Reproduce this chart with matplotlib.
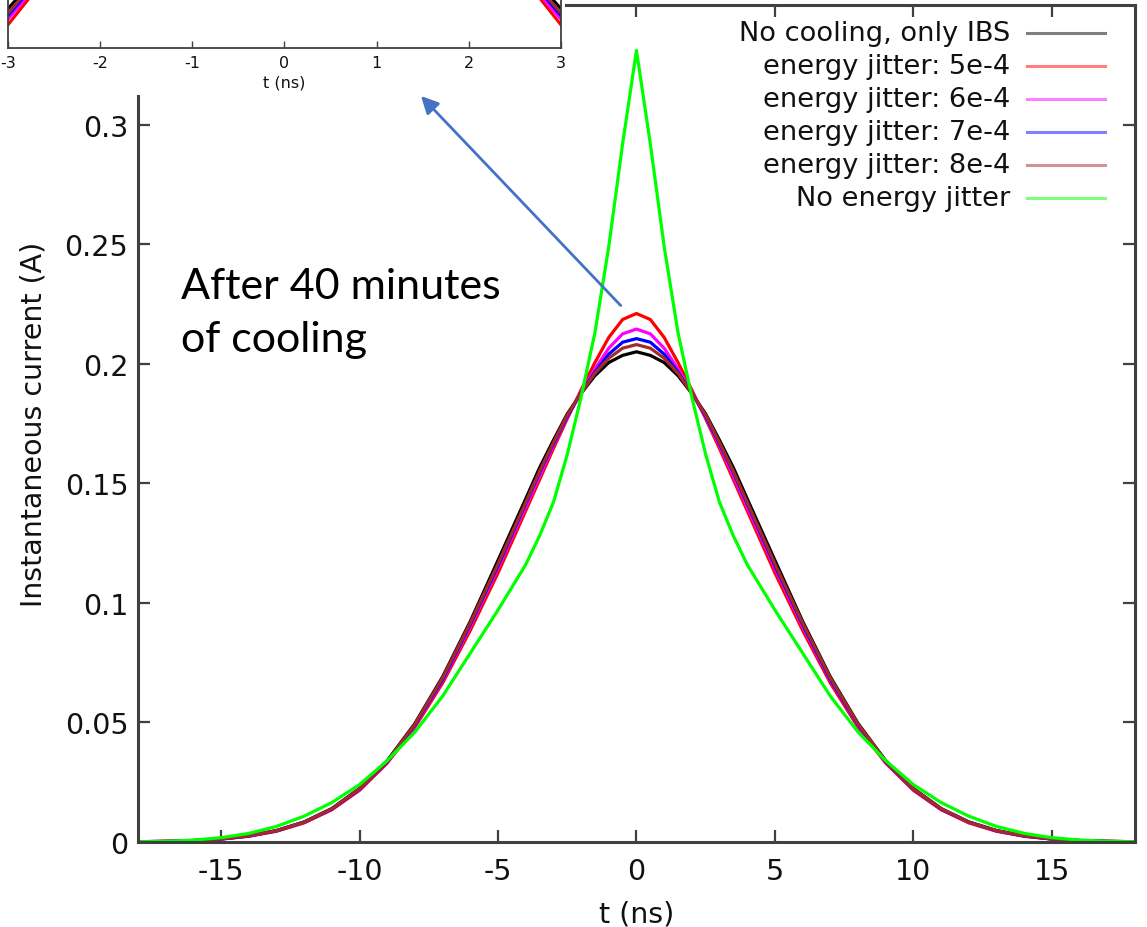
import numpy as np
import matplotlib
matplotlib.use("Agg")
import matplotlib.pyplot as plt
from matplotlib.patches import Rectangle
from matplotlib.lines import Line2D

plt.rcParams['font.family'] = ['DejaVu Sans']
plt.rcParams['axes.unicode_minus'] = False

# time axis (ns)
t = [-18, -17, -16, -15, -14, -13, -12, -11, -10, -9, -8, -7, -6, -5, -4,
     -3.5, -3, -2.5, -2, -1.5, -1, -0.5, 0, 0.5, 1, 1.5, 2, 2.5, 3, 3.5,
     4, 5, 6, 7, 8, 9, 10, 11, 12, 13, 14, 15, 16, 17, 18]

# instantaneous current (A)
ibs_only = [0.0001, 0.0003, 0.0006, 0.0013, 0.0026, 0.0048, 0.0084, 0.014, 0.0224, 0.034, 0.0496, 0.0691, 0.0923, 0.1178, 0.1435,
            0.1565, 0.168, 0.179, 0.1876, 0.195, 0.2005, 0.2035, 0.205, 0.2035, 0.2005, 0.195, 0.1876, 0.179, 0.168, 0.1565,
            0.1435, 0.1178, 0.0923, 0.0691, 0.0496, 0.034, 0.0224, 0.014, 0.0084, 0.0048, 0.0026, 0.0013, 0.0006, 0.0003, 0.0001]
jit_5e4 = [0.0001, 0.0002, 0.0005, 0.0012, 0.0024, 0.0045, 0.008, 0.0135, 0.0216, 0.033, 0.048, 0.0665, 0.0885, 0.1125, 0.1385,
           0.1515, 0.1645, 0.177, 0.189, 0.2005, 0.211, 0.2185, 0.221, 0.2185, 0.211, 0.2005, 0.189, 0.177, 0.1645, 0.1515,
           0.1385, 0.1125, 0.0885, 0.0665, 0.048, 0.033, 0.0216, 0.0135, 0.008, 0.0045, 0.0024, 0.0012, 0.0005, 0.0002, 0.0001]
jit_6e4 = [0.0001, 0.0002, 0.0005, 0.0012, 0.0025, 0.0046, 0.0082, 0.0137, 0.0219, 0.0334, 0.0486, 0.0675, 0.09, 0.1145, 0.14,
           0.153, 0.1657, 0.1775, 0.1882, 0.1978, 0.2065, 0.2125, 0.2145, 0.2125, 0.2065, 0.1978, 0.1882, 0.1775, 0.1657, 0.153,
           0.14, 0.1145, 0.09, 0.0675, 0.0486, 0.0334, 0.0219, 0.0137, 0.0082, 0.0046, 0.0025, 0.0012, 0.0005, 0.0002, 0.0001]
jit_7e4 = [0.0001, 0.0002, 0.0006, 0.0013, 0.0025, 0.0047, 0.0083, 0.0138, 0.0221, 0.0336, 0.049, 0.068, 0.091, 0.1155, 0.1415,
           0.1545, 0.1665, 0.178, 0.1878, 0.1965, 0.204, 0.209, 0.2105, 0.209, 0.204, 0.1965, 0.1878, 0.178, 0.1665, 0.1545,
           0.1415, 0.1155, 0.091, 0.068, 0.049, 0.0336, 0.0221, 0.0138, 0.0083, 0.0047, 0.0025, 0.0013, 0.0006, 0.0002, 0.0001]
jit_8e4 = [0.0001, 0.0003, 0.0006, 0.0013, 0.0026, 0.0047, 0.0083, 0.0139, 0.0222, 0.0338, 0.0493, 0.0686, 0.0916, 0.1163, 0.142,
           0.155, 0.167, 0.1785, 0.1877, 0.196, 0.2023, 0.2065, 0.208, 0.2065, 0.2023, 0.196, 0.1877, 0.1785, 0.167, 0.155,
           0.142, 0.1163, 0.0916, 0.0686, 0.0493, 0.0338, 0.0222, 0.0139, 0.0083, 0.0047, 0.0026, 0.0013, 0.0006, 0.0003, 0.0001]
no_jitter = [0.0001, 0.0003, 0.0008, 0.0018, 0.0036, 0.0065, 0.0108, 0.0165, 0.024, 0.034, 0.046, 0.061, 0.079, 0.097, 0.116,
             0.128, 0.142, 0.162, 0.186, 0.213, 0.249, 0.292, 0.331, 0.292, 0.249, 0.213, 0.186, 0.162, 0.142, 0.128,
             0.116, 0.097, 0.079, 0.061, 0.046, 0.034, 0.024, 0.0165, 0.0108, 0.0065, 0.0036, 0.0018, 0.0008, 0.0003, 0.0001]

series = [ibs_only, jit_5e4, jit_6e4, jit_7e4, jit_8e4, no_jitter]
labels = ["No cooling, only IBS", "energy jitter: 5e-4", "energy jitter: 6e-4",
          "energy jitter: 7e-4", "energy jitter: 8e-4", "No energy jitter"]
colors = ["#000000", "#ff0000", "#ff00ff", "#0000ff", "#a52a2a", "#00ff00"]

x_ticks = [-15, -10, -5, 0, 5, 10, 15]
y_ticks = [0, 0.05, 0.1, 0.15, 0.2, 0.25, 0.3]
y_ticklabels = ["0", "0.05", "0.1", "0.15", "0.2", "0.25", "0.3"]
inset_ticks = [-3, -2, -1, 0, 1, 2, 3]

frame = "#404040"
fs = 20.5

fig = plt.figure(figsize=(11.47, 9.28), dpi=100)
ax = fig.add_axes([0.1203, 0.0916, 0.8692, 0.9019])

for y, lab, c in zip(series, labels, colors):
    ax.plot(t, y, color=c, lw=2.3, label=lab)

ax.set_xlim(-18, 18)
ax.set_ylim(0, 0.35)
ax.set_xticks(x_ticks)
ax.set_xticklabels([str(v) for v in x_ticks])
ax.set_yticks(y_ticks)
ax.set_yticklabels(y_ticklabels)
ax.tick_params(direction='in', top=True, right=True, length=8.5, width=1.6,
               color=frame, labelsize=fs, labelcolor='#111111')
ax.tick_params(axis='x', pad=11)
ax.tick_params(axis='y', pad=7)
for s in ax.spines.values():
    s.set_color(frame)
    s.set_linewidth(2.2)
ax.set_xlabel("t (ns)", fontsize=fs, labelpad=10, color='#111111')
ax.set_ylabel("Instantaneous current (A)", fontsize=fs, labelpad=12, color='#111111')

# gnuplot-like key: text right-aligned, sample line on the right
for i, (lab, c) in enumerate(zip(labels, colors)):
    yk = 0.9666 - i * 0.0394
    ax.text(0.8746, yk, lab, transform=ax.transAxes, ha='right', va='center',
            fontsize=19.6, color='#111111')
    ax.add_line(Line2D([0.8917, 0.970], [yk, yk], transform=ax.transAxes,
                       color=c, lw=2.2, alpha=0.5))

ax.text(-16.45, 0.2215, "After 40 minutes\nof cooling", fontsize=31,
        family='Lato', ha='left', va='center', linespacing=1.5)
ax.annotate("", xy=(-7.85, 0.3128), xytext=(-0.5, 0.2235),
            arrowprops=dict(arrowstyle='-|>', color='#4472c4', lw=2,
                            mutation_scale=26),
            annotation_clip=False)

# white patch where the zoomed inset was pasted over
fig.patches.append(Rectangle((0, 0.8965), 0.493, 0.11, transform=fig.transFigure,
                             facecolor='white', edgecolor='none', zorder=1))

ins = fig.add_axes([0.00697, 0.9472, 0.4821, 0.352])
ins.set_zorder(2)
for y, c in zip(series[:5], colors[:5]):
    ins.plot(t, y, color=c, lw=2.2)
ins.set_xlim(-3, 3)
ins.set_ylim(0.1595, 0.23)
ins.set_xticks(inset_ticks)
ins.set_xticklabels([str(v) for v in inset_ticks])
ins.set_yticks([])
ins.tick_params(direction='in', length=5, width=1, color=frame, labelsize=11.5,
                pad=5, labelcolor='#111111')
for s in ins.spines.values():
    s.set_color(frame)
    s.set_linewidth(1.3)
ins.set_xlabel("t (ns)", fontsize=11.5, labelpad=3, color='#111111')

fig.savefig("out.png", dpi=100)
